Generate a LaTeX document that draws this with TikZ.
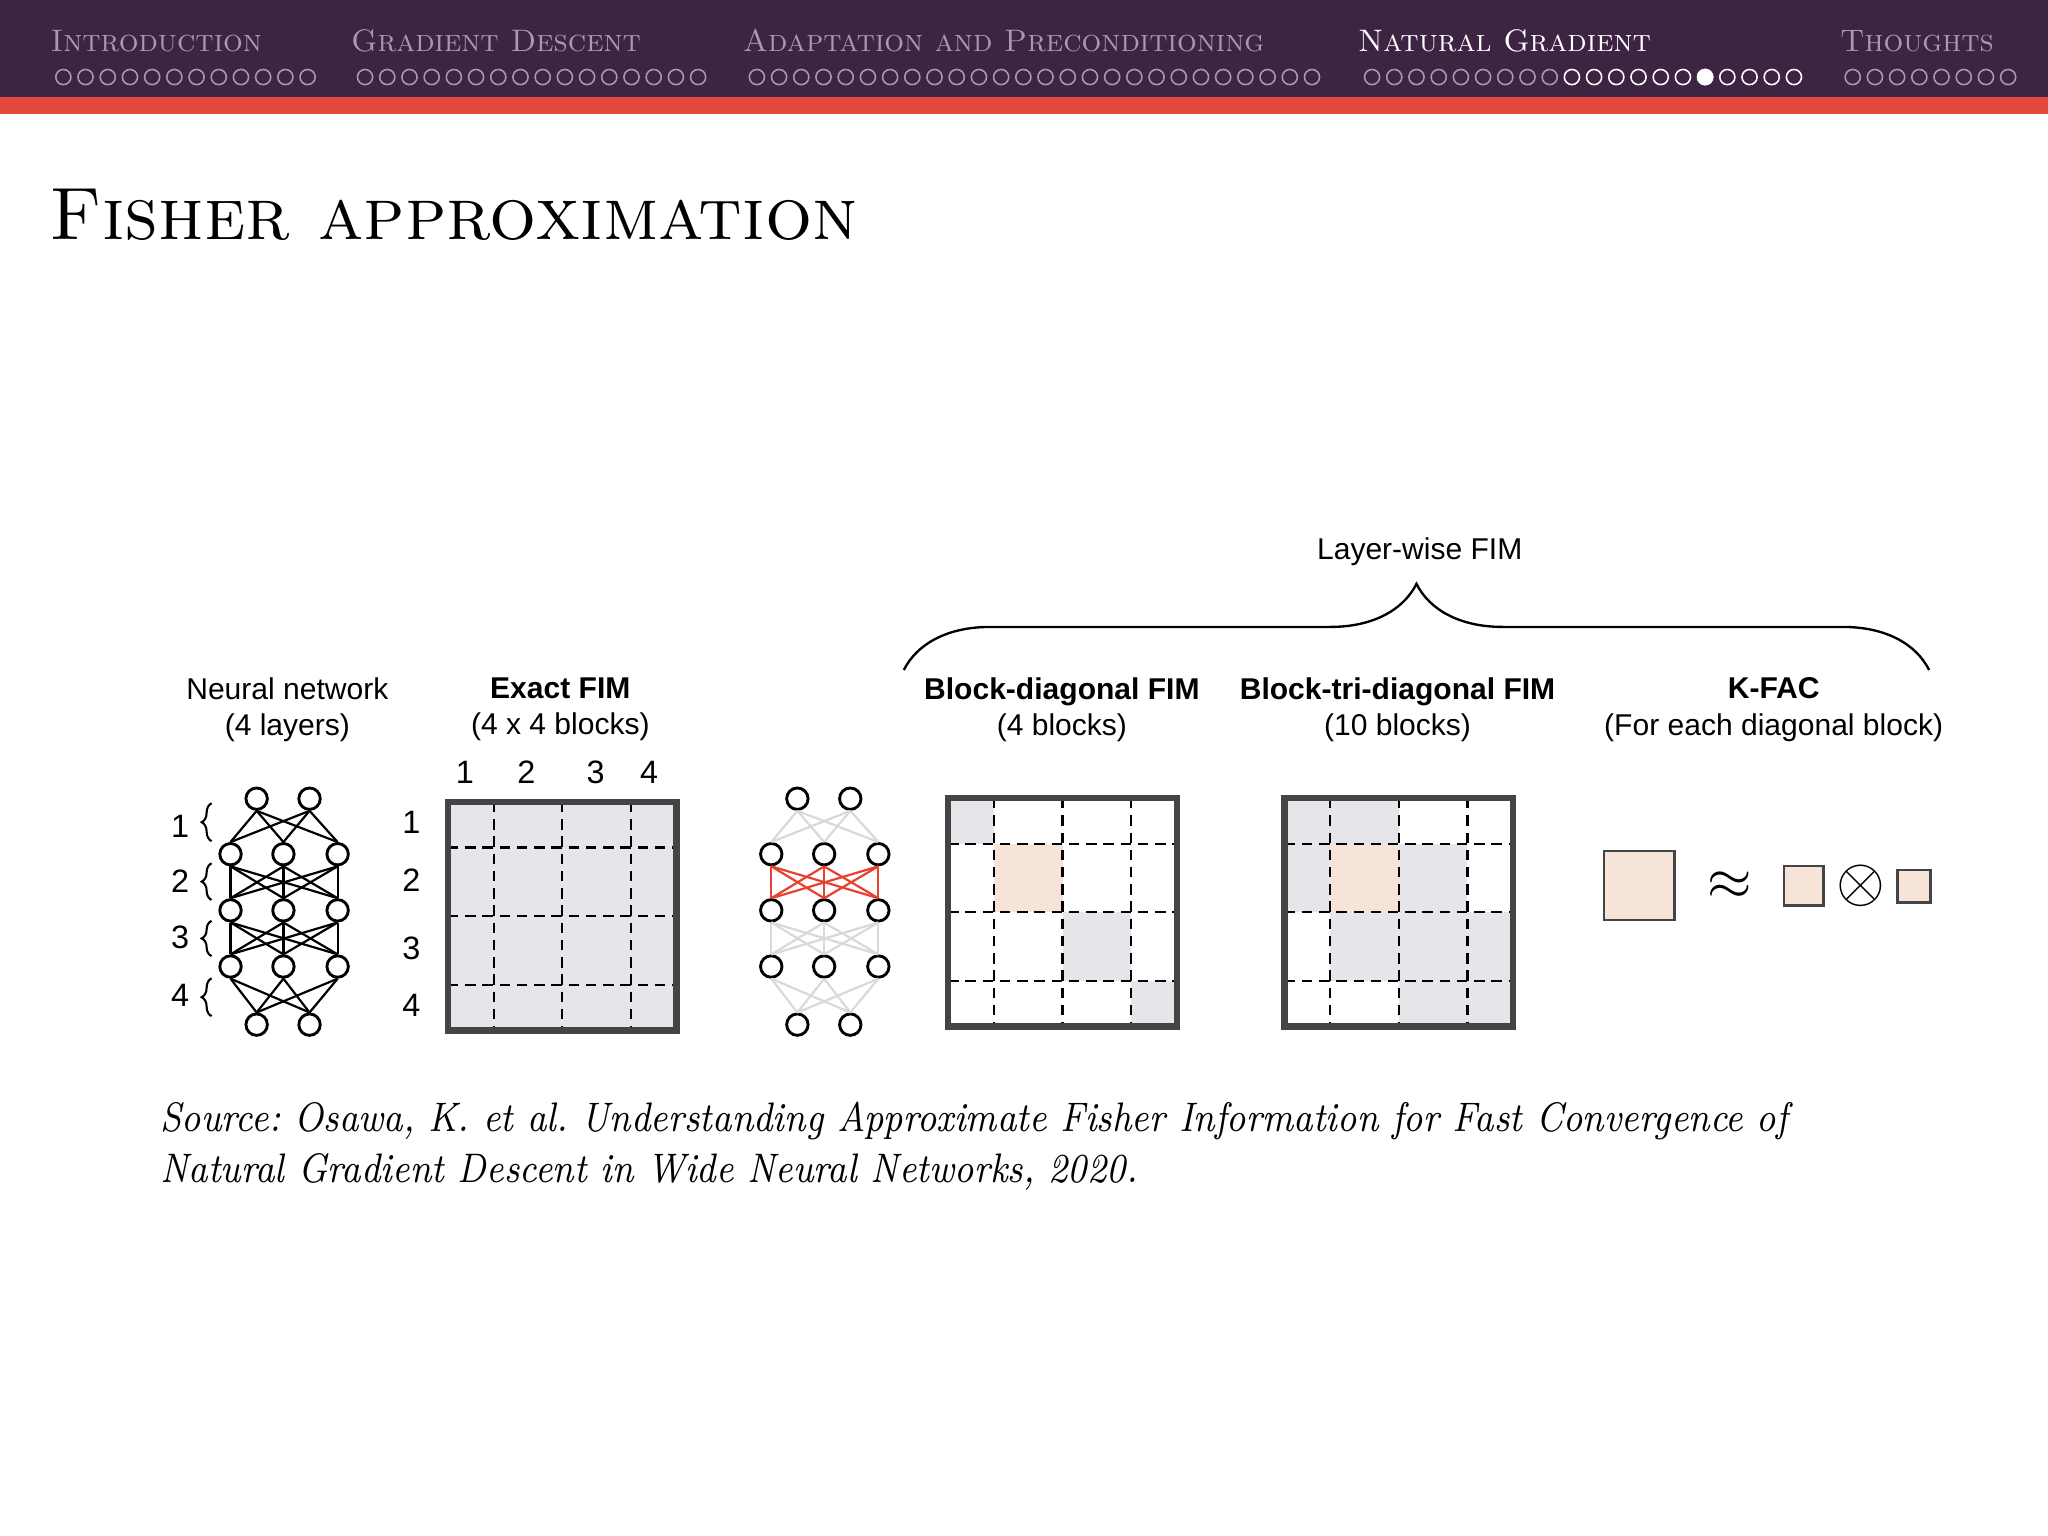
\documentclass[tikz,border=0pt]{standalone}
\usepackage{fontspec}
\usepackage{graphicx}
\newfontfamily\figfont{Liberation Sans}
\usetikzlibrary{decorations.pathreplacing,positioning}
\definecolor{navpurple}{HTML}{3D2443}
\definecolor{navred}{HTML}{E2483C}
\definecolor{navdim}{HTML}{AE95B3}
\definecolor{fimgrey}{HTML}{E6E5E9}
\definecolor{fimpeach}{HTML}{F7E4D9}
\definecolor{fimframe}{HTML}{444444}
\definecolor{wirered}{HTML}{E8412F}
\definecolor{wiregrey}{HTML}{D9D9DB}
\begin{document}
\begin{tikzpicture}[x=0.25pt, y=-0.25pt,
  navtext/.style={anchor=base west, inner sep=0, text=navdim, font=\fontsize{5.95}{7}\selectfont\scshape},
  navdot/.style={draw=navdim, line width=0.3pt},
  curdot/.style={draw=white, line width=0.3pt},
  caption/.style={anchor=north, inner sep=0, align=center, font=\figfont\fontsize{5.75}{7}\selectfont},
  digit/.style={inner sep=0, font=\figfont\fontsize{6.2}{7}\selectfont},
  neuron/.style={circle, draw, line width=0.55pt, minimum size=4.1pt, inner sep=0},
  wire/.style={line width=0.42pt},
  fimdash/.style={line width=0.45pt, dash pattern=on 2pt off 1.3pt},
  fimborder/.style={draw=fimframe, line width=1.2pt},
  kfacbox/.style={draw=fimframe, fill=fimpeach, line width=0.45pt, inner sep=0},
  source/.style={anchor=base west, inner sep=0, font=\fontsize{7.9}{9}\selectfont\itshape\frenchspacing},
  layerbrace/.style={decorate, decoration={brace, amplitude=1.9pt}, line width=0.4pt},
  bigbrace/.style={decorate, decoration={brace, amplitude=16.5pt}, line width=0.45pt}]
\useasboundingbox (0,0) rectangle (1568,1176);
\fill[white] (0,0) rectangle (1568,1176);

% navigation bar
\fill[navpurple] (0,0) rectangle (1568,74);
\fill[navred] (0,74) rectangle (1568,87);
\node[navtext] (secintro) at (38,39.5) {Introduction};
\node[navtext] (secgd) at (268,39.5) {Gradient Descent};
\node[navtext] (secadapt) at (568,39.5) {Adaptation and Preconditioning};
\node[navtext, text=white] (secng) at (1039,39.5) {Natural Gradient};
\node[navtext] (secthoughts) at (1408,39.5) {Thoughts};
\foreach \sx/\n in {48.5/12, 279.5/16, 579.5/26, 1418.5/8}
  \foreach \k in {1,...,\n}
    \draw[navdot] (\sx+17*\k-17,59) circle (1.45pt);
\foreach \k in {0,...,8}
  \draw[navdot] (1050.5+17*\k,59) circle (1.45pt);
\foreach \k in {9,...,19}
  \draw[curdot] (1050.5+17*\k,59) circle (1.45pt);
\fill[white] (1050.5+17*15,59) circle (1.6pt);

% frame title
\node[anchor=base west, inner sep=0, font=\fontsize{14.2}{16}\selectfont\scshape] (title) at (37,183) {Fisher approximation};

% networks
\foreach \nw/\dx in {L/0, R/414} {
  \foreach \i/\x in {1/196.5, 2/237} {
    \node[neuron] (\nw a\i) at (\x+\dx,611.5) {};
    \node[neuron] (\nw e\i) at (\x+\dx,784.5) {};
  }
  \foreach \i/\x in {1/176.5, 2/217, 3/258.5} {
    \node[neuron] (\nw b\i) at (\x+\dx,654) {};
    \node[neuron] (\nw c\i) at (\x+\dx,697) {};
    \node[neuron] (\nw d\i) at (\x+\dx,740) {};
  }
}
\foreach \i in {1,2}
  \foreach \j in {1,2,3} {
    \draw[wire] (La\i.south) -- (Lb\j.north);
    \draw[wire] (Ld\j.south) -- (Le\i.north);
    \draw[wire, wiregrey] (Ra\i.south) -- (Rb\j.north);
    \draw[wire, wiregrey] (Rd\j.south) -- (Re\i.north);
  }
\foreach \i in {1,2,3}
  \foreach \j in {1,2,3} {
    \draw[wire] (Lb\i.south) -- (Lc\j.north);
    \draw[wire] (Lc\i.south) -- (Ld\j.north);
    \draw[wire, wiregrey] (Rc\i.south) -- (Rd\j.north);
  }
\foreach \i in {1,2,3}
  \foreach \j in {1,2,3}
    \draw[wire, wirered] (Rb\i.south) -- (Rc\j.north);

% layer labels
\foreach \k/\y/\ya/\yb in {1/633/644/615, 2/675/689/661, 3/718/732/705, 4/762/778/749} {
  \node[digit] (layer\k) at (138,\y) {\k};
  \draw[layerbrace] (162,\ya) -- (162,\yb);
}

% captions
\node[caption] (capnet) at (220,518) {Neural network\\(4 layers)};
\node[caption] (capexact) at (429,518) {\bfseries Exact FIM\\(4 x 4 blocks)};
\node[caption] (capdiag) at (813,518) {\bfseries Block-diagonal FIM\\(4 blocks)};
\node[caption] (captri) at (1070,518) {\bfseries Block-tri-diagonal FIM\\(10 blocks)};
\node[caption] (capkfac) at (1358,518) {\bfseries K-FAC\\(For each diagonal block)};
\node[anchor=base, inner sep=0, font=\figfont\fontsize{5.75}{7}\selectfont] (layerwise) at (1087,428) {Layer-wise FIM};
\draw[bigbrace] (692,513) -- (1477,513);

% exact FIM
\foreach \k/\x in {1/356, 2/403, 3/456, 4/497}
  \node[digit, anchor=base] (col\k) at (\x,600) {\k};
\foreach \k/\y in {1/630, 2/674, 3/726, 4/770}
  \node[digit] (row\k) at (315,\y) {\k};
\begin{scope}[shift={(343,614)}]
  \fill[fimgrey] (0,0) rectangle (175,175);
  \foreach \t in {35,87.5,140} {
    \draw[fimdash] (\t,0) -- (\t,175);
    \draw[fimdash] (0,\t) -- (175,\t);
  }
  \draw[fimborder] (0,0) rectangle (175,175);
\end{scope}

% block-diagonal FIM
\begin{scope}[shift={(726,611)}]
  \fill[fimgrey] (0,0) rectangle (35,35);
  \fill[fimpeach] (35,35) rectangle (87.5,87.5);
  \fill[fimgrey] (87.5,87.5) rectangle (140,140);
  \fill[fimgrey] (140,140) rectangle (175,175);
  \foreach \t in {35,87.5,140} {
    \draw[fimdash] (\t,0) -- (\t,175);
    \draw[fimdash] (0,\t) -- (175,\t);
  }
  \draw[fimborder] (0,0) rectangle (175,175);
\end{scope}

% block-tri-diagonal FIM
\begin{scope}[shift={(983.5,611)}]
  \fill[fimgrey] (0,0) rectangle (87.5,35);
  \fill[fimgrey] (0,35) rectangle (140,87.5);
  \fill[fimgrey] (35,87.5) rectangle (175,140);
  \fill[fimgrey] (87.5,140) rectangle (175,175);
  \fill[fimpeach] (35,35) rectangle (87.5,87.5);
  \foreach \t in {35,87.5,140} {
    \draw[fimdash] (\t,0) -- (\t,175);
    \draw[fimdash] (0,\t) -- (175,\t);
  }
  \draw[fimborder] (0,0) rectangle (175,175);
\end{scope}

% K-FAC
\node[kfacbox, minimum width=13.5pt, minimum height=13.3pt] (kbig) at (1255,678) {};
\node[inner sep=0, font=\fontsize{11}{11}\selectfont] (approx) at (1324,678) {$\approx$};
\node[kfacbox, minimum size=7.6pt] (ksmall) at (1381,678) {};
\node[inner sep=0, font=\fontsize{11.5}{11.5}\selectfont] (kron) at (1425,678) {$\otimes$};
\node[kfacbox, minimum size=6.3pt] (ktiny) at (1465.5,678.5) {};

% source
\node[source] (src1) at (122,866) {\scalebox{0.86}[1]{Source: Osawa, K. et al. Understanding Approximate Fisher Information for Fast Convergence of}};
\node[source] (src2) at (122,905) {\scalebox{0.86}[1]{Natural Gradient Descent in Wide Neural Networks, 2020.}};
\end{tikzpicture}
\end{document}
